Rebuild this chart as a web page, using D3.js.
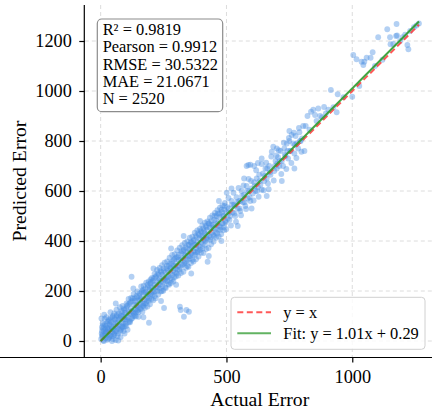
<!DOCTYPE html>
<html>
<head>
<meta charset="utf-8">
<script src="https://cdn.jsdelivr.net/npm/d3@7"></script>
<style>
  body { margin: 0; background: #fff; }
  svg { display: block; }
</style>
</head>
<body>
<div id="scatter"></div>
<script>
var svgWidth = 432;
var svgHeight = 413;

// tick values
var xTicks = [0, 500, 1000];
var yTicks = [0, 200, 400, 600, 800, 1000, 1200];

// stats shown in the box
var statLines = ["R\u00b2 = 0.9819", "Pearson = 0.9912", "RMSE = 30.5322", "MAE = 21.0671", "N = 2520"];

// fit line y = slope * x + intercept, drawn over the range of actual values
var fitSlope = 1.01;
var fitIntercept = 0.29;
var lineRange = [0, 1265];

// legend entries
var legendLabels = ["y = x", "Fit: y = 1.01x + 0.29"];

// [actual, predicted] samples
var samples = [
  [2,8],[4,30],[5,55],[3,90],[6,18],[8,70],[10,2],[12,40],[14,105],[15,22],[18,48],[20,12],[22,60],[24,35],
  [26,5],[28,78],[30,28],[32,50],[34,14],[36,66],[38,40],[40,92],[42,20],[44,55],[46,35],[48,8],[50,70],
  [52,45],[55,25],[57,85],[60,58],[62,40],[64,100],[66,72],[68,50],[70,30],[72,110],[75,62],[78,90],[80,45],
  [82,120],[84,75],[86,58],[88,100],[90,70],[92,130],[94,88],[96,60],[98,112],[100,95],[60,4],[70,2],[45,0],
  [102,60],[105,140],[108,95],[110,118],[112,75],[115,150],[118,108],[120,130],[122,88],[123,257],[125,160],
  [128,115],[130,100],[133,145],[135,170],[138,125],[140,98],[142,180],[145,140],[148,160],[150,115],
  [152,135],[155,190],[158,150],[160,128],[163,175],[165,200],[168,150],[170,140],[172,195],[175,165],
  [178,210],[180,150],[182,185],[185,172],[188,215],[190,160],[192,73],[194,205],[196,180],[198,230],[200,190],
  [202,168],[205,215],[208,240],[210,195],[213,225],[215,180],[218,255],[220,215],[223,235],[225,200],
  [228,270],[230,225],[233,250],[235,210],[238,280],[240,240],[243,200],[245,265],[248,235],[250,290],
  [252,132],[253,245],[256,215],[258,275],[260,250],[263,300],[265,240],[268,280],[270,260],[272,225],
  [275,310],[278,270],[280,290],[283,245],[285,320],[288,280],[290,300],[292,255],[295,330],[298,290],[300,310],
  [302,270],[305,335],[308,300],[310,325],[313,285],[315,137],[318,124],[320,350],[322,305],[325,330],
  [328,360],[331,97],[332,310],[335,345],[338,375],[340,320],[341,124],[343,355],[345,300],[348,385],
  [350,340],[351,117],[353,365],[355,330],[358,395],[360,350],[363,380],[365,325],[368,400],[370,360],
  [373,385],[375,345],[378,420],[380,370],[383,395],[385,355],[388,430],[390,380],[393,410],[395,365],
  [398,440],[400,395],
  [403,420],[405,370],[408,450],[410,405],[413,430],[415,385],[418,460],[420,410],[423,445],[425,317],
  [428,470],[430,420],[433,455],[436,405],[440,480],[443,435],[446,465],[450,420],[453,500],[456,450],
  [460,480],[463,430],[466,510],[470,460],[473,495],[476,445],[480,525],[483,470],[486,500],[490,455],
  [493,540],[496,480],[500,515],
  [501,593],[505,490],[510,530],[515,500],[520,560],[525,515],[530,545],[535,500],[540,575],[545,530],
  [550,560],[555,520],[560,600],[565,555],[570,585],[575,540],[580,620],[585,570],[587,704],[590,600],
  [595,560],[598,640],[600,610],[580,700],[595,705],[610,700],[625,712],[640,708],
  [605,590],[610,635],[615,600],[620,650],[625,615],[630,665],[635,625],[640,605],[645,670],[650,640],
  [655,690],[660,650],[665,630],[670,700],[675,665],[680,757],[686,777],[690,680],[695,720],[700,690],
  [705,735],[710,700],[715,760],[720,720],[725,700],[730,770],[735,740],[740,790],[745,730],[750,800],
  [755,760],[759,824],[765,790],[770,750],[775,820],[780,790],[785,770],[790,835],[795,800],[800,810],
  [815,860],[822,900],[830,845],[836,917],[845,925],[852,904],[858,880],[865,930],[872,900],[880,895],
  [888,936],[895,910],[905,925],[915,1004],[925,935],[938,915],[942,987],
  [965,975],[1000,977],[1004,1144],[1017,1127],[1028,1020],[1037,1117],[1044,1104],[1048,1117],
  [1057,1133],[1073,1133],[1081,1155],[1090,1100],
  [1103,1215],[1120,1125],[1139,1247],[1150,1215],[1152,1187],[1163,1188],[1174,1220],[1176,1268],
  [1178,1222],[1190,1200],[1200,1215],[1210,1225],[1219,1184],[1223,1167],[1230,1240],[1245,1255],
  [1255,1262],[1265,1270],
  // wider spread of the main band
  [5,40],[9,62],[13,0],[16,88],[19,30],[23,95],[27,52],[31,10],[35,80],[39,115],[43,60],[47,95],[51,20],
  [54,110],[58,75],[63,125],[67,20],[71,85],[76,135],[79,15],[83,50],[87,140],[91,40],[95,125],[99,68],
  [103,150],[107,45],[111,168],[116,80],[121,172],[126,92],[131,188],[136,101],[141,143],[146,198],[151,97],
  [156,163],[161,218],[166,117],[171,221],[176,133],[181,233],[186,138],[191,238],[196,147],[199,246],
  [204,252],[209,163],[214,268],[219,171],[224,284],[229,186],[234,292],[239,198],[244,303],[249,201],
  [254,313],[259,212],[264,318],[269,228],[274,333],[279,232],[284,344],[289,238],[294,347],[299,258],
  [304,362],[309,262],[314,373],[319,272],[324,383],[329,277],[334,392],[339,293],[344,398],[349,297],
  [354,413],[359,312],[364,417],[369,318],[374,433],[379,327],[384,442],[389,338],[394,448],[399,353],
  [404,462],[409,352],[414,473],[419,368],[424,478],[429,372],[434,493],[439,387],[444,502],[449,398],
  [454,512],[459,413],[464,523],[469,418],[474,533],[479,427],[484,542],[489,443],[494,552],[499,447],
  [508,572],[518,462],[528,593],[538,477],[548,612],[558,503],[568,622],[578,528],[588,648],[608,562],
  [618,683],[628,577],[648,603],[658,713],[668,607],[678,738],[688,642],[698,742],
  [708,763],[718,668],[728,793],[738,688],[748,812],[758,712],[768,833],[778,732],[788,852],[798,757],
  [145,120],[188,190],[232,242],[276,290],[318,325],[362,372],[405,415],[447,455],[489,500],[532,540],
  [160,170],[205,200],[250,255],[295,300],[337,340],[380,385],[422,425],[465,470],[510,512],[555,560],
  // filling the core of the band
  [7,25],[11,50],[17,65],[21,38],[25,70],[29,45],[33,85],[37,22],[41,75],[45,48],[49,100],[53,30],
  [56,90],[59,40],[65,105],[69,62],[73,95],[77,40],[81,100],[85,115],[89,55],[93,105],[97,85],
  [101,130],[104,85],[109,145],[113,110],[117,75],[119,155],[124,120],[127,170],[132,110],[137,160],
  [139,115],[144,175],[147,125],[153,180],[157,130],[162,195],[167,140],[169,205],[174,150],[179,195],
  [183,160],[187,225],[193,170],[197,215],
  [201,235],[206,185],[211,250],[216,200],[221,260],[226,215],[231,265],[236,225],[241,275],[246,220],
  [251,280],[257,240],[262,290],[266,255],[271,300],[277,250],[281,310],[286,265],[291,325],[296,275],
  [301,335],[306,285],[311,345],[316,295],[321,360],[326,305],[331,365],[336,315],[342,370],[346,325],
  [352,385],[356,340],[361,395],[366,345],[371,405],[376,355],[382,415],[386,360],[391,425],[396,375],
  [401,435],[406,390],[411,440],[416,400],[421,455],[426,405],[431,470],[437,415],[441,465],[447,425],
  [452,485],[457,435],[462,500],[467,445],[472,510],[477,455],[482,515],[487,470],[492,525],[497,475],
  [503,535],[512,485],[522,545],[532,510],[542,555],[552,530],[562,580],[572,555],[582,600],[592,575],
  // loose points at the edges of the band
  [60,150],[95,30],[130,210],[170,95],[210,290],[240,160],[280,370],[300,225],[330,420],[360,270],
  [395,480],[430,340],[470,560],[480,400],[520,610],[545,460],[570,650],[600,530],[640,730],[660,580],
  [700,770],[720,640],[750,840],[770,690],[805,860],[810,760],
  [612,620],[632,640],[652,660],[672,675],[692,700],[712,720],[732,745],[752,760],[772,785],[792,800],
  [622,600],[662,690],[702,710],[742,760]
];

var serif = "'Liberation Serif', 'Times New Roman', serif";

var svg = d3
  .select("#scatter")
  .append("svg")
  .attr("width", svgWidth)
  .attr("height", svgHeight);

// scales (axes area: left spine at 84.8, bottom spine at 357)
var xScale = d3.scaleLinear()
  .domain([-63, 1328])
  .range([84.8, 434.8]);

var yScale = d3.scaleLinear()
  .domain([-64, 1344])
  .range([357, 5]);

// dashed grid
var grid = svg.append("g").attr("class", "grid");

grid.selectAll(".vgrid")
  .data(xTicks)
  .enter()
  .append("line")
  .attr("x1", d => xScale(d))
  .attr("x2", d => xScale(d))
  .attr("y1", 5)
  .attr("y2", 357)
  .attr("stroke", "#dcdcdc")
  .attr("stroke-width", 1)
  .attr("stroke-dasharray", "4,3");

grid.selectAll(".hgrid")
  .data(yTicks)
  .enter()
  .append("line")
  .attr("x1", 84.8)
  .attr("x2", 432)
  .attr("y1", d => yScale(d))
  .attr("y2", d => yScale(d))
  .attr("stroke", "#dcdcdc")
  .attr("stroke-width", 1)
  .attr("stroke-dasharray", "4,3");

// points
svg.append("g")
  .selectAll("circle")
  .data(samples)
  .enter()
  .append("circle")
  .attr("cx", d => xScale(d[0]))
  .attr("cy", d => yScale(d[1]))
  .attr("r", 2.9)
  .attr("fill", "#4a90e2")
  .attr("fill-opacity", 0.42);

// y = x reference line
svg.append("line")
  .attr("x1", xScale(lineRange[0]))
  .attr("y1", yScale(lineRange[0]))
  .attr("x2", xScale(lineRange[1]))
  .attr("y2", yScale(lineRange[1]))
  .attr("stroke", "#ff3b3b")
  .attr("stroke-opacity", 0.85)
  .attr("stroke-width", 2)
  .attr("stroke-dasharray", "6,3.5");

// fit line
svg.append("line")
  .attr("x1", xScale(lineRange[0]))
  .attr("y1", yScale(fitSlope * lineRange[0] + fitIntercept))
  .attr("x2", xScale(lineRange[1]))
  .attr("y2", yScale(fitSlope * lineRange[1] + fitIntercept))
  .attr("stroke", "#2e9a2e")
  .attr("stroke-opacity", 0.9)
  .attr("stroke-width", 2);

// axes
var bottomAxis = d3.axisBottom(xScale)
  .tickValues(xTicks)
  .tickFormat(d3.format("d"))
  .tickSizeInner(5.5)
  .tickSizeOuter(0)
  .tickPadding(7.5);

var leftAxis = d3.axisLeft(yScale)
  .tickValues(yTicks)
  .tickFormat(d3.format("d"))
  .tickSizeInner(5.5)
  .tickSizeOuter(0)
  .tickPadding(7.5);

var xAxis = svg.append("g")
  .attr("transform", "translate(0, 357)")
  .call(bottomAxis);

var yAxis = svg.append("g")
  .attr("transform", "translate(84.8, 0)")
  .call(leftAxis);

[xAxis, yAxis].forEach(function(ax) {
  ax.attr("font-family", serif).attr("font-size", 18.3);
  ax.select(".domain").attr("stroke", "#000").attr("stroke-width", 1.2);
  ax.selectAll(".tick line").attr("stroke", "#000").attr("stroke-width", 1.2);
  ax.selectAll(".tick text")
    .attr("fill", "#000")
    .style("font-family", serif)
    .style("font-size", "18.3px");
});

// extend spines over the full axes area
xAxis.select(".domain").attr("d", "M0,0.5H432");
yAxis.select(".domain").attr("d", "M-0.5,5V357");

// axis labels
svg.append("text")
  .attr("x", 259.8)
  .attr("y", 406)
  .attr("text-anchor", "middle")
  .style("font-family", serif)
  .style("font-size", "19.7px")
  .text("Actual Error");

svg.append("text")
  .attr("transform", "translate(25.5, 181) rotate(-90)")
  .attr("text-anchor", "middle")
  .style("font-family", serif)
  .style("font-size", "19.7px")
  .text("Predicted Error");

// stats box
var statsGroup = svg.append("g");

statsGroup.append("rect")
  .attr("x", 97.3)
  .attr("y", 19)
  .attr("width", 125.4)
  .attr("height", 92.7)
  .attr("rx", 4.5)
  .attr("fill", "#fff")
  .attr("fill-opacity", 0.85)
  .attr("stroke", "#8c8c8c")
  .attr("stroke-width", 1.2);

statsGroup.selectAll("text")
  .data(statLines)
  .enter()
  .append("text")
  .attr("x", 102.7)
  .attr("y", (d, i) => 35 + i * 17.25)
  .style("font-family", serif)
  .style("font-size", "16.4px")
  .text(d => d);

// legend
var legend = svg.append("g");

legend.append("rect")
  .attr("x", 231)
  .attr("y", 297.3)
  .attr("width", 194)
  .attr("height", 52)
  .attr("rx", 3.5)
  .attr("fill", "#fff")
  .attr("fill-opacity", 0.8)
  .attr("stroke", "#d0d0d0")
  .attr("stroke-width", 1);

legend.append("line")
  .attr("x1", 237.3).attr("x2", 271)
  .attr("y1", 312.3).attr("y2", 312.3)
  .attr("stroke", "#ff3b3b")
  .attr("stroke-opacity", 0.85)
  .attr("stroke-width", 2)
  .attr("stroke-dasharray", "6,3.5");

legend.append("line")
  .attr("x1", 237.3).attr("x2", 271)
  .attr("y1", 333.3).attr("y2", 333.3)
  .attr("stroke", "#2e9a2e")
  .attr("stroke-opacity", 0.75)
  .attr("stroke-width", 2);

legend.selectAll("text")
  .data(legendLabels)
  .enter()
  .append("text")
  .attr("x", 283.3)
  .attr("y", (d, i) => 318 + i * 21)
  .style("font-family", serif)
  .style("font-size", "16.4px")
  .text(d => d);
</script>
</body>
</html>
